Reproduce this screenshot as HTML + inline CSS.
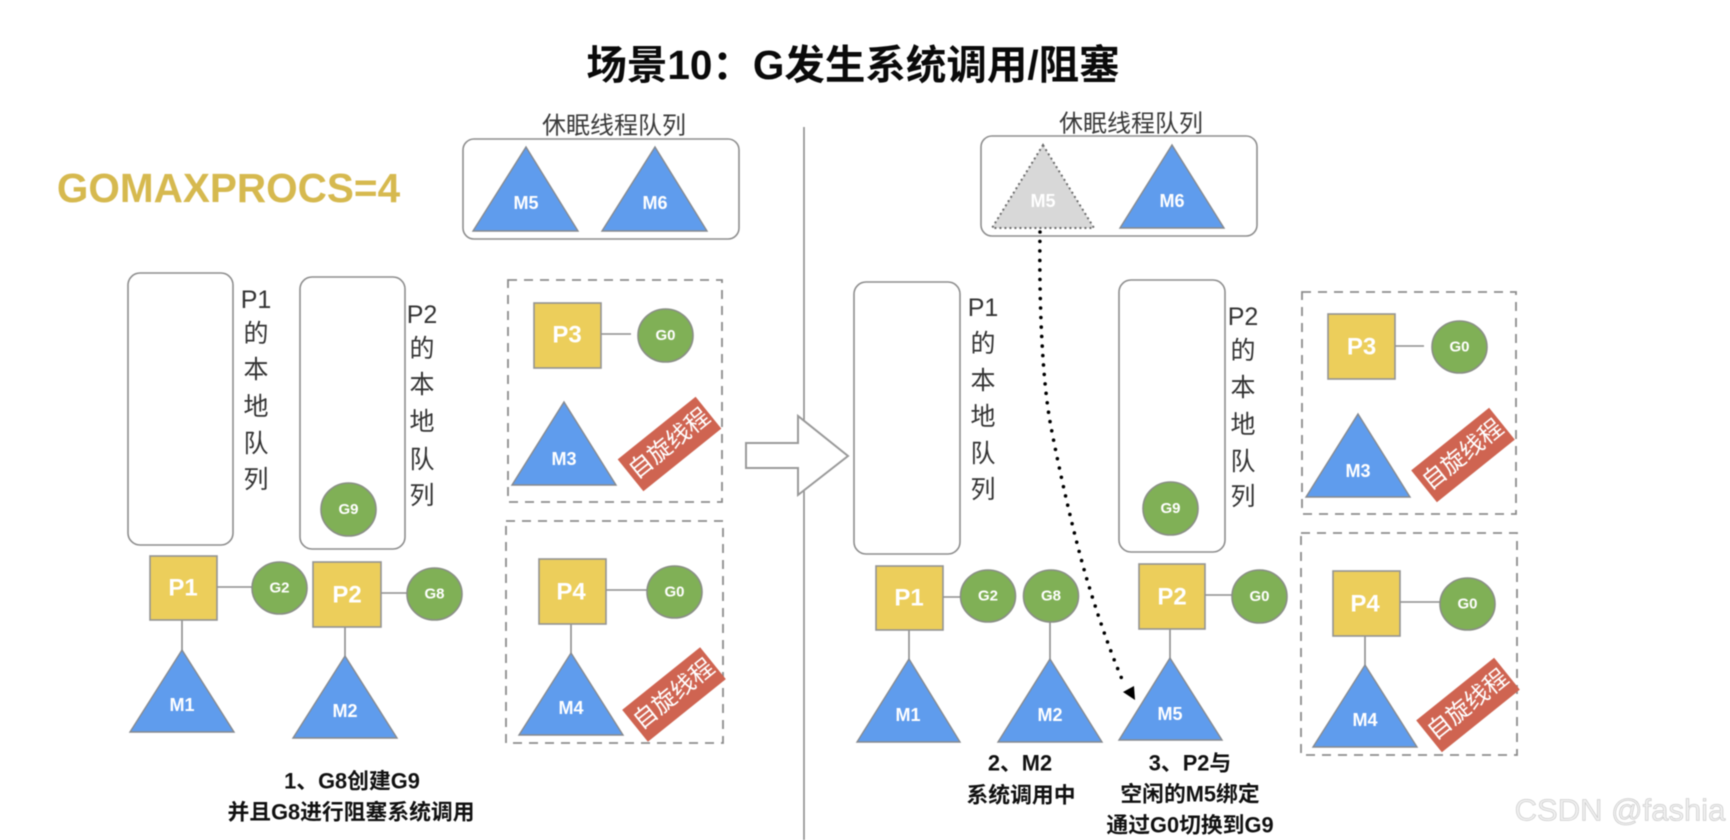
<!DOCTYPE html>
<html lang="zh">
<head>
<meta charset="utf-8">
<title>场景10：G发生系统调用/阻塞</title>
<style>
html,body{margin:0;padding:0;background:#fff;width:1730px;height:840px;overflow:hidden}
svg{display:block;filter:blur(.45px)}
text{font-family:"Liberation Sans","Noto Sans CJK SC",sans-serif;text-anchor:middle;dominant-baseline:central}
.q{fill:#fff;stroke:#8e8e8e;stroke-width:1.6}
.d{fill:none;stroke:#8c8c8c;stroke-width:1.8;stroke-dasharray:9 7}
.l{stroke:#8e8e8e;stroke-width:1.6;fill:none}
.p{fill:#ecce5b;stroke:#949494;stroke-width:1.6}
.g{fill:#80b056;stroke:#8a8f86;stroke-width:1.6}
.m{fill:#5f9ced;stroke:#85898f;stroke-width:1.4}
.pt{fill:#fff;font-weight:700;font-size:24px}
.gt{fill:#fff;font-weight:700;font-size:15px}
.mt{fill:#fff;font-weight:700;font-size:18px}
.v{fill:#333;font-size:25px}
.s{fill:#3a3a3a;font-size:24px}
.c{fill:#111;font-weight:700;font-size:21.8px}
.r{fill:#fff;font-size:24px}
</style>
</head>
<body>
<svg width="1730" height="840" viewBox="0 0 1730 840" xmlns="http://www.w3.org/2000/svg">
<rect width="1730" height="840" fill="#fff"/>

<text x="853" y="65" style="font-size:40.5px;font-weight:700;fill:#0a0a0a">场景10：G发生系统调用/阻塞</text>
<text x="228.500" y="188" style="font-size:40.500px;font-weight:700;fill:#d6b94f">GOMAXPROCS=4</text>

<!-- divider and big arrow -->
<line class="l" x1="804" y1="127" x2="804" y2="840"/>
<polygon points="746,443 798,443 798,416 848,456 798,495 798,468 746,468" fill="#fff" stroke="#9a9a9a" stroke-width="2"/>

<!-- LEFT: sleep queue -->
<text class="s" x="614" y="126">休眠线程队列</text>
<rect class="q" x="463" y="139" width="276" height="100" rx="11"/>
<polygon class="m" points="526,147 578,231 473,231"/><text class="mt" x="526" y="203">M5</text>
<polygon class="m" points="655,147 707,231 602,231"/><text class="mt" x="655" y="203">M6</text>

<!-- LEFT: local queues -->
<rect class="q" x="128" y="273" width="105" height="272" rx="12"/>
<text class="v" x="256" y="300">P1</text><text class="v" x="256" y="334">的</text><text class="v" x="256" y="370">本</text><text class="v" x="256" y="407">地</text><text class="v" x="256" y="444">队</text><text class="v" x="256" y="480">列</text>
<rect class="q" x="300" y="277" width="105" height="272" rx="12"/>
<text class="v" x="422" y="315">P2</text><text class="v" x="422" y="349">的</text><text class="v" x="422" y="385">本</text><text class="v" x="422" y="422">地</text><text class="v" x="422" y="460">队</text><text class="v" x="422" y="496">列</text>
<ellipse class="g" cx="348.500" cy="509.500" rx="27.500" ry="26.500"/><text class="gt" x="348.500" y="509.500">G9</text>

<!-- LEFT: P1 -->
<line class="l" x1="217" y1="587" x2="252" y2="587"/>
<line class="l" x1="182" y1="620" x2="182" y2="650"/>
<rect class="p" x="150" y="556" width="67" height="64"/><text class="pt" x="183" y="588">P1</text>
<ellipse class="g" cx="279.500" cy="588" rx="27.500" ry="26"/><text class="gt" x="279.500" y="588">G2</text>
<polygon class="m" points="182,650 234,732 130,732"/><text class="mt" x="182" y="705">M1</text>

<!-- LEFT: P2 -->
<line class="l" x1="381" y1="593" x2="407" y2="593"/>
<line class="l" x1="345" y1="627" x2="345" y2="656"/>
<rect class="p" x="313" y="562" width="68" height="65"/><text class="pt" x="347" y="595">P2</text>
<ellipse class="g" cx="434.500" cy="594" rx="27.500" ry="26"/><text class="gt" x="434.500" y="594">G8</text>
<polygon class="m" points="345,656 397,738 293,738"/><text class="mt" x="345" y="711">M2</text>

<!-- LEFT: spinning 1 -->
<rect class="d" x="508" y="280" width="214" height="222"/>
<line class="l" x1="601" y1="334" x2="631" y2="334"/>
<rect class="p" x="534" y="303" width="67" height="65"/><text class="pt" x="567" y="335">P3</text>
<ellipse class="g" cx="665.500" cy="335.500" rx="27.500" ry="26.500"/><text class="gt" x="665.500" y="335.500">G0</text>
<polygon class="m" points="564,402 616,485 512,485"/><text class="mt" x="564" y="459">M3</text>
<g transform="translate(669.500 444) rotate(-38.800)"><rect x="-50" y="-20.500" width="100" height="41" fill="#cf6451"/><text class="r" x="0" y="0">自旋线程</text></g>

<!-- LEFT: spinning 2 -->
<rect class="d" x="506" y="521" width="217" height="222"/>
<line class="l" x1="606" y1="590" x2="647" y2="590"/>
<line class="l" x1="571" y1="624" x2="571" y2="653"/>
<rect class="p" x="539" y="559" width="67" height="65"/><text class="pt" x="571" y="592">P4</text>
<ellipse class="g" cx="674.500" cy="592" rx="27.500" ry="26"/><text class="gt" x="674.500" y="592">G0</text>
<polygon class="m" points="571,653 623,735 519,735"/><text class="mt" x="571" y="708">M4</text>
<g transform="translate(674 694.500) rotate(-38.800)"><rect x="-50" y="-20.500" width="100" height="41" fill="#cf6451"/><text class="r" x="0" y="0">自旋线程</text></g>

<text class="c" x="352" y="781">1、G8创建G9</text>
<text class="c" x="351" y="812">并且G8进行阻塞系统调用</text>

<!-- RIGHT: sleep queue -->
<text class="s" x="1131" y="124">休眠线程队列</text>
<rect class="q" x="981" y="136" width="276" height="100" rx="11"/>
<polygon points="1043,145 1094,228 992,228" fill="#d8d8d8" stroke="#6d6d6d" stroke-width="2" stroke-dasharray="2 3"/><text class="mt" x="1043" y="201">M5</text>
<polygon class="m" points="1172,145 1224,228 1120,228"/><text class="mt" x="1172" y="201">M6</text>

<!-- RIGHT: local queues -->
<rect class="q" x="854" y="282" width="106" height="272" rx="12"/>
<text class="v" x="983" y="308">P1</text><text class="v" x="983" y="344">的</text><text class="v" x="983" y="381">本</text><text class="v" x="983" y="417">地</text><text class="v" x="983" y="454">队</text><text class="v" x="983" y="490">列</text>
<rect class="q" x="1119" y="280" width="106" height="272" rx="12"/>
<text class="v" x="1243" y="317">P2</text><text class="v" x="1243" y="351">的</text><text class="v" x="1243" y="388">本</text><text class="v" x="1243" y="425">地</text><text class="v" x="1243" y="462">队</text><text class="v" x="1243" y="497">列</text>
<ellipse class="g" cx="1170.500" cy="508.500" rx="27.500" ry="26.500"/><text class="gt" x="1170.500" y="508.500">G9</text>

<!-- RIGHT: P1 / G8 / P2 -->
<line class="l" x1="943" y1="597" x2="960" y2="597"/>
<line class="l" x1="909" y1="630" x2="909" y2="659"/>
<rect class="p" x="876" y="566" width="67" height="64"/><text class="pt" x="909" y="598">P1</text>
<ellipse class="g" cx="988" cy="596" rx="27.500" ry="26"/><text class="gt" x="988" y="596">G2</text>
<polygon class="m" points="909,659 960,742 857,742"/><text class="mt" x="908" y="715">M1</text>

<line class="l" x1="1050" y1="622" x2="1050" y2="659"/>
<ellipse class="g" cx="1051" cy="596" rx="27.500" ry="26"/><text class="gt" x="1051" y="596">G8</text>
<polygon class="m" points="1050,659 1102,742 998,742"/><text class="mt" x="1050" y="715">M2</text>

<line class="l" x1="1205" y1="595" x2="1232" y2="595"/>
<line class="l" x1="1170" y1="629" x2="1170" y2="658"/>
<rect class="p" x="1139" y="564" width="66" height="65"/><text class="pt" x="1172" y="597">P2</text>
<ellipse class="g" cx="1259.500" cy="596.500" rx="27.500" ry="26.500"/><text class="gt" x="1259.500" y="596.500">G0</text>
<polygon class="m" points="1170,658 1222,740 1119,740"/><text class="mt" x="1170" y="714">M5</text>

<!-- RIGHT: dotted connector -->
<path d="M1040 232C1039 300 1042 380 1051 427S1075 540 1088 583S1113 658 1124 684" fill="none" stroke="#000" stroke-width="3.600" stroke-linecap="round" stroke-dasharray="0 9.500"/>
<polygon points="1123,692 1134,686 1135,700" fill="#000"/>

<!-- RIGHT: spinning 1 -->
<rect class="d" x="1302" y="292" width="214" height="222"/>
<line class="l" x1="1395" y1="346" x2="1424" y2="346"/>
<rect class="p" x="1328" y="314" width="67" height="65"/><text class="pt" x="1361.500" y="347">P3</text>
<ellipse class="g" cx="1459.500" cy="347" rx="27.500" ry="26"/><text class="gt" x="1459.500" y="347">G0</text>
<polygon class="m" points="1358,414 1410,497 1306,497"/><text class="mt" x="1358" y="471">M3</text>
<g transform="translate(1463 455) rotate(-38.800)"><rect x="-50" y="-20.500" width="100" height="41" fill="#cf6451"/><text class="r" x="0" y="0">自旋线程</text></g>

<!-- RIGHT: spinning 2 -->
<rect class="d" x="1301" y="533" width="216" height="222"/>
<line class="l" x1="1400" y1="602" x2="1440" y2="602"/>
<line class="l" x1="1365" y1="636" x2="1365" y2="665"/>
<rect class="p" x="1333" y="571" width="67" height="65"/><text class="pt" x="1365" y="604">P4</text>
<ellipse class="g" cx="1467.500" cy="604" rx="27.500" ry="26"/><text class="gt" x="1467.500" y="604">G0</text>
<polygon class="m" points="1365,665 1417,747 1313,747"/><text class="mt" x="1365" y="720">M4</text>
<g transform="translate(1468 705) rotate(-38.800)"><rect x="-50" y="-20.500" width="100" height="41" fill="#cf6451"/><text class="r" x="0" y="0">自旋线程</text></g>

<text class="c" x="1020" y="763">2、M2</text>
<text class="c" x="1021" y="795">系统调用中</text>
<text class="c" x="1190" y="763">3、P2与</text>
<text class="c" x="1190" y="794">空闲的M5绑定</text>
<text class="c" x="1190" y="825">通过G0切换到G9</text>

<text x="1620" y="810" style="font-size:31px;fill:#efefef;stroke:#bdbdbd;stroke-width:.5">CSDN @fashia</text>
</svg>
</body>
</html>
